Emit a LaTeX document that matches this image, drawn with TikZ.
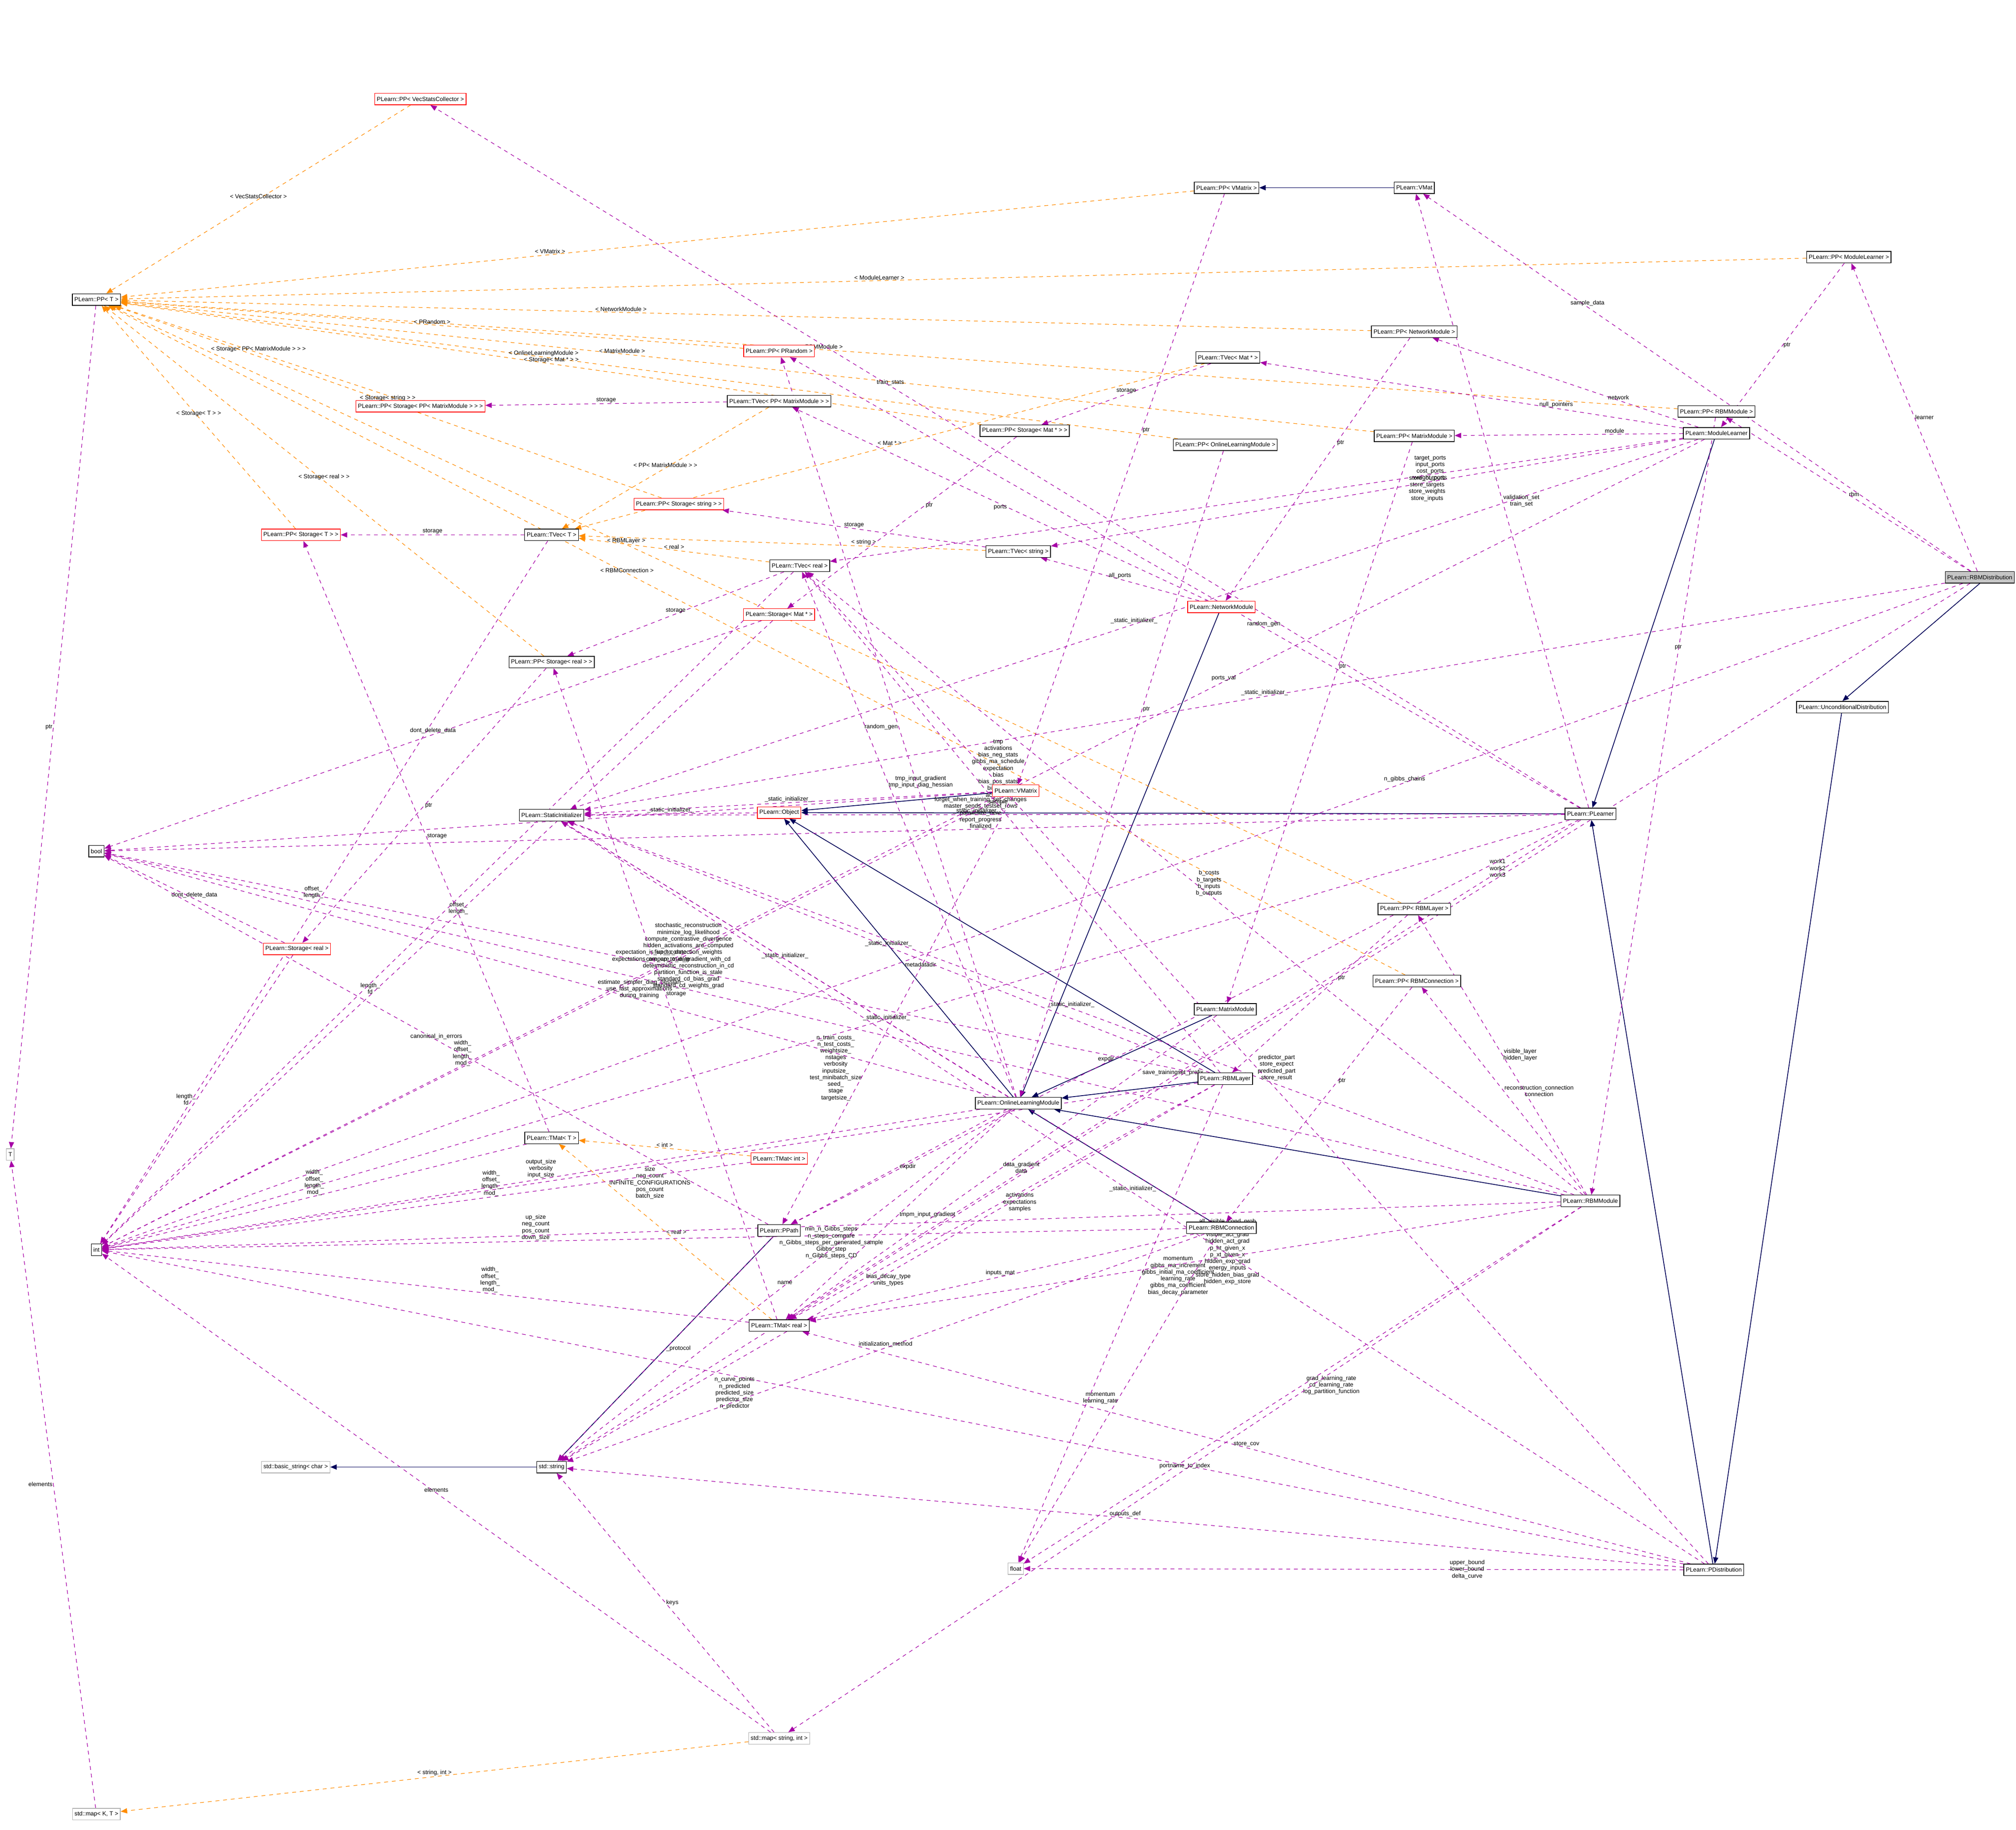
\documentclass[tikz,border=0pt]{standalone}
\usepackage{fontspec}
\setmainfont{Liberation Sans}
\usetikzlibrary{arrows.meta,backgrounds}
\begin{document}
\begin{tikzpicture}[x=1pt,y=-1pt,
 every node/.style={font=\fontsize{4.6}{5.2}\selectfont},
 cls/.style={draw=black,fill=white,inner sep=1.6pt,minimum height=9pt,line width=0.5pt},
 redc/.style={cls,draw=red},
 grayc/.style={cls,draw=gray!60},
 rootc/.style={cls,fill=gray!45},
 inh/.style={draw=blue!35!black,line width=0.6pt,-{Triangle[length=5pt,width=4pt]}},
 use/.style={draw=violet!70!magenta,dashed,line width=0.45pt,-{Triangle[length=5pt,width=4pt]}},
 tpl/.style={draw=orange!90!yellow,dashed,line width=0.45pt,-{Triangle[length=5pt,width=4pt]}},
 lb/.style={align=center,inner sep=0.5pt}]
\path[use as bounding box] (0,0) rectangle (1568,1423);
% nodes
\node[rootc,anchor=east] (rbmd) at (1567,449) {PLearn::RBMDistribution};
\node[cls] (ppml) at (1438,200) {PLearn::PP< ModuleLearner >};
\node[cls] (pprbmm) at (1335,320) {PLearn::PP< RBMModule >};
\node[cls] (ml) at (1335,337) {PLearn::ModuleLearner};
\node[cls] (ppnm) at (1100,258) {PLearn::PP< NetworkModule >};
\node[cls] (ppmm) at (1100,339) {PLearn::PP< MatrixModule >};
\node[cls] (ppolm) at (953,346) {PLearn::PP< OnlineLearningModule >};
\node[cls] (tvmat) at (955,278) {PLearn::TVec< Mat * >};
\node[cls] (vmat) at (1100,146) {PLearn::VMat};
\node[cls] (ppvm) at (954,146) {PLearn::PP< VMatrix >};
\node[cls] (ud) at (1433,550) {PLearn::UnconditionalDistribution};
\node[cls] (pl) at (1237,633) {PLearn::PLearner};
\node[cls] (pprl) at (1100,707) {PLearn::PP< RBMLayer >};
\node[cls] (pprc) at (1102,763) {PLearn::PP< RBMConnection >};
\node[cls] (rbmm) at (1237,934) {PLearn::RBMModule};
\node[cls] (pd) at (1333,1221) {PLearn::PDistribution};
\node[redc] (nm) at (950,472) {PLearn::NetworkModule};
\node[redc] (vm) at (790,615) {PLearn::VMatrix};
\node[redc] (obj) at (606,632) {PLearn::Object};
\node[cls] (si) at (429,634) {PLearn::StaticInitializer};
\node[cls] (mm) at (953,785) {PLearn::MatrixModule};
\node[cls] (rl) at (953,839) {PLearn::RBMLayer};
\node[cls] (olm) at (792,858) {PLearn::OnlineLearningModule};
\node[cls] (rc) at (950,955) {PLearn::RBMConnection};
\node[cls] (tvs) at (792,429) {PLearn::TVec< string >};
\node[cls] (tvr) at (622,440) {PLearn::TVec< real >};
\node[cls] (tvt) at (429,416) {PLearn::TVec< T >};
\node[redc] (stm) at (606,478) {PLearn::Storage< Mat * >};
\node[cls] (ppsr) at (429,515) {PLearn::PP< Storage< real > >};
\node[cls] (ppsm) at (797,335) {PLearn::PP< Storage< Mat * > >};
\node[redc] (ppss) at (528,392) {PLearn::PP< Storage< string > >};
\node[redc] (ppst) at (234,416) {PLearn::PP< Storage< T > >};
\node[redc] (ppspm) at (327,316) {PLearn::PP< Storage< PP< MatrixModule > > >};
\node[cls] (tvpm) at (606,312) {PLearn::TVec< PP< MatrixModule > >};
\node[redc] (pprand) at (606,273) {PLearn::PP< PRandom >};
\node[redc] (ppvsc) at (327,77) {PLearn::PP< VecStatsCollector >};
\node[cls] (ppt) at (75,233) {PLearn::PP< T >};
\node[cls] (bool) at (75,662) {bool};
\node[redc] (sr) at (231,738) {PLearn::Storage< real >};
\node[cls] (tmt) at (429,885) {PLearn::TMat< T >};
\node[redc] (tmi) at (606,901) {PLearn::TMat< int >};
\node[cls] (pp) at (606,957) {PLearn::PPath};
\node[cls] (tmr) at (606,1031) {PLearn::TMat< real >};
\node[cls] (int) at (75,972) {int};
\node[grayc] (T) at (8,898) {T};
\node[cls] (str) at (429,1141) {std::string};
\node[grayc] (bstr) at (230,1141) {std::basic\_string< char >};
\node[grayc] (float) at (790,1220) {float};
\node[grayc] (msi) at (606,1352) {std::map< string, int >};
\node[grayc] (mkt) at (75,1411) {std::map< K, T >};
\begin{scope}[on background layer]
\fill[white] (0,0) rectangle (1568,1423);
% inheritance
\draw[inh] (vmat) -- (ppvm);
\draw[inh] (rbmd.south) -- (ud.north);
\draw[inh] (ud) -- (pd);
\draw[inh] (pd) -- (pl);
\draw[inh] (pl) -- (obj);
\draw[inh] (ml) -- (pl);
\draw[inh] (rbmm) -- (olm);
\draw[inh] (nm) -- (olm);
\draw[inh] (mm) -- (olm);
\draw[inh] (rl) -- (olm);
\draw[inh] (rc) -- (olm);
\draw[inh] (olm) -- (obj);
\draw[inh] (vm) -- (obj);
\draw[inh] (rl) -- (obj);
\draw[inh] (pp) -- (str);
\draw[inh] (str) -- (bstr);
% templates
\draw[tpl] (ppml) -- node[lb,pos=0.55,above]{< ModuleLearner >} (ppt);
\draw[tpl] (pprbmm) -- node[lb,pos=0.55,above]{< RBMModule >} (ppt);
\draw[tpl] (ppvsc) -- node[lb,above]{< VecStatsCollector >} (ppt);
\draw[tpl] (ppvm) -- node[lb,pos=0.6,above]{< VMatrix >} (ppt);
\draw[tpl] (ppnm) -- node[lb,pos=0.6,above]{< NetworkModule >} (ppt);
\draw[tpl] (ppmm) -- node[lb,pos=0.6,above]{< MatrixModule >} (ppt);
\draw[tpl] (pprl) -- node[lb,pos=0.6,above]{< RBMLayer >} (ppt);
\draw[tpl] (pprc) -- node[lb,pos=0.6,above]{< RBMConnection >} (ppt);
\draw[tpl] (ppolm) -- node[lb,pos=0.6,above]{< OnlineLearningModule >} (ppt);
\draw[tpl] (pprand) -- node[lb,pos=0.5,above]{< PRandom >} (ppt);
\draw[tpl] (ppsm) -- node[lb,pos=0.5,above]{< Storage< Mat * > >} (ppt);
\draw[tpl] (ppspm) -- node[lb,pos=0.5,above]{< Storage< PP< MatrixModule > > >} (ppt);
\draw[tpl] (ppst) -- node[lb,pos=0.5,above]{< Storage< T > >} (ppt);
\draw[tpl] (ppss) -- node[lb,pos=0.5,above]{< Storage< string > >} (ppt);
\draw[tpl] (ppsr) -- node[lb,pos=0.5,above]{< Storage< real > >} (ppt);
\draw[tpl] (tvmat) -- node[lb,pos=0.5,above]{< Mat * >} (tvt);
\draw[tpl] (tvpm) -- node[lb,pos=0.5,above]{< PP< MatrixModule > >} (tvt);
\draw[tpl] (tvs) -- node[lb,pos=0.3,above]{< string >} (tvt);
\draw[tpl] (tvr) -- node[lb,pos=0.5,above]{< real >} (tvt);
\draw[tpl] (tmi) -- node[lb,pos=0.5,above]{< int >} (tmt);
\draw[tpl] (tmr) -- node[lb,pos=0.5,right]{< real >} (tmt);
\draw[tpl] (msi) -- node[lb,pos=0.5,above]{< string, int >} (mkt);
% usage
\draw[use] (rbmd) -- node[lb,right]{learner} (ppml);
\draw[use] (rbmd) -- node[lb,pos=0.7,above]{sample\_data} (vmat);
\draw[use] (rbmd) -- node[lb,right]{rbm} (pprbmm);
\draw[use] (rbmd) -- node[lb,pos=0.4,above]{work1\\work2\\work3} (tmr);
\draw[use] (rbmd) -- node[lb,pos=0.3,above]{n\_gibbs\_chains} (int);
\draw[use] (rbmd) -- node[lb,pos=0.5,above]{\_static\_initializer\_} (si);
\draw[use] (ppml) -- node[lb,right]{ptr} (ml);
\draw[use] (pprbmm) -- node[lb,pos=0.3,above]{ptr} (rbmm);
\draw[use] (ppvm) -- node[lb,pos=0.4,right]{ptr} (vm);
\draw[use] (ppnm) -- node[lb,pos=0.4,right]{ptr} (nm);
\draw[use] (ppmm) -- node[lb,pos=0.4,right]{ptr} (mm);
\draw[use] (pprl) -- node[lb,pos=0.4,right]{ptr} (rl);
\draw[use] (pprc) -- node[lb,pos=0.4,right]{ptr} (rc);
\draw[use] (ppolm) -- node[lb,pos=0.4,right]{ptr} (olm);
\draw[use] (ppt) -- node[lb,pos=0.5,left]{ptr} (T);
\draw[use] (ppsr) -- node[lb,pos=0.5,right]{ptr} (sr);
\draw[use] (ppsm) -- node[lb,pos=0.4,right]{ptr} (stm);
\draw[use] (ml) -- node[lb,pos=0.3,above]{network} (ppnm);
\draw[use] (ml) -- node[lb,pos=0.3,above]{null\_pointers} (tvmat);
\draw[use] (ml) -- node[lb,pos=0.3,above]{module} (ppmm);
\draw[use] (ml) -- node[lb,pos=0.4,above]{target\_ports\\input\_ports\\cost\_ports\\weight\_ports} (tvs);
\draw[use] (ml) -- node[lb,pos=0.3,below]{store\_outputs\\store\_targets\\store\_weights\\store\_inputs} (tvr);
\draw[use] (ml) -- node[lb,pos=0.5,above]{\_static\_initializer\_} (si);
\draw[use] (ml) -- node[lb,pos=0.3,above]{ports\_val} (int);
\draw[use] (pl) -- node[lb,pos=0.5,right]{validation\_set\\train\_set} (vmat);
\draw[use] (pl) -- node[lb,pos=0.6,above]{train\_stats} (ppvsc);
\draw[use] (pl) -- node[lb,pos=0.4,above]{forget\_when\_training\_set\_changes\\master\_sends\_testset\_rows\\parallelize\_here\\report\_progress\\finalized} (bool);
\draw[use] (pl) -- node[lb,pos=0.4,above]{random\_gen} (pprand);
\draw[use] (pl) -- node[lb,pos=0.5,below]{n\_train\_costs\_\\n\_test\_costs\_\\weightsize\_\\nstages\\verbosity\\inputsize\_\\test\_minibatch\_size\\seed\_\\stage\\targetsize\_} (int);
\draw[use] (pl) -- node[lb,pos=0.6,above]{expdir} (pp);
\draw[use] (pl) -- node[lb,pos=0.4,above]{save\_trainingset\_prefix} (str);
\draw[use] (pl) -- node[lb,pos=0.6,above]{\_static\_initializer\_} (si);
\draw[use] (vm) -- node[lb,pos=0.5,above]{writable} (bool);
\draw[use] (vm) -- node[lb,pos=0.4,above]{metadatadir} (pp);
\draw[use] (vm) -- node[lb,pos=0.6,above]{width\_\\offset\_\\length\_\\mod\_} (int);
\draw[use] (vm) -- node[lb,pos=0.5,above]{\_static\_initializer\_} (si);
\draw[use] (obj) -- node[lb,pos=0.5,above]{\_static\_initializer\_} (si);
\draw[use] (nm) -- node[lb,pos=0.5,above]{all\_ports} (tvs);
\draw[use] (nm) -- node[lb,pos=0.5,below]{ports} (tvpm);
\draw[use] (olm) -- node[lb,pos=0.5,left]{random\_gen} (pprand);
\draw[use] (olm) -- node[lb,pos=0.4,above]{estimate\_simpler\_diag\_hessian\\use\_fast\_approximations\\during\_training} (bool);
\draw[use] (olm) -- node[lb,pos=0.5,above]{output\_size\\verbosity\\input\_size} (int);
\draw[use] (olm) -- node[lb,pos=0.5,above]{name} (str);
\draw[use] (olm) -- node[lb,pos=0.5,right]{expdir} (pp);
\draw[use] (olm) -- node[lb,pos=0.5,above]{\_static\_initializer\_} (si);
\draw[use] (olm) -- node[lb,pos=0.6,right]{tmp\_input\_gradient\\tmp\_input\_diag\_hessian} (tvr);
\draw[use] (olm) -- node[lb,pos=0.5,right]{tmpm\_input\_gradient} (tmr);
\draw[use] (rl) -- node[lb,pos=0.6,right]{tmp\\activations\\bias\_neg\_stats\\gibbs\_ma\_schedule\\expectation\\bias\\bias\_pos\_stats\\bias\_inc\\activation\\sample} (tvr);
\draw[use] (rl) -- node[lb,pos=0.4,right]{momentum\\gibbs\_ma\_increment\\gibbs\_initial\_ma\_coefficient\\learning\_rate\\gibbs\_ma\_coefficient\\bias\_decay\_parameter} (float);
\draw[use] (rl) -- node[lb,pos=0.5,right]{activations\\expectations\\samples} (tmr);
\draw[use] (rl) -- node[lb,pos=0.5,above]{expectation\_is\_up\_to\_date\\expectations\_are\_up\_to\_date} (bool);
\draw[use] (rl) -- node[lb,pos=0.5,below]{size\\neg\_count\\INFINITE\_CONFIGURATIONS\\pos\_count\\batch\_size} (int);
\draw[use] (rl) -- node[lb,pos=0.5,below]{bias\_decay\_type\\units\_types} (str);
\draw[use] (rl) -- node[lb,pos=0.5,above]{\_static\_initializer\_} (si);
\draw[use] (rc) -- node[lb,pos=0.5,left]{momentum\\learning\_rate} (float);
\draw[use] (rc) -- node[lb,pos=0.6,above]{up\_size\\neg\_count\\pos\_count\\down\_size} (int);
\draw[use] (rc) -- node[lb,pos=0.5,above]{initialization\_method} (str);
\draw[use] (rc) -- node[lb,pos=0.5,above]{inputs\_mat} (tmr);
\draw[use] (rc) -- node[lb,pos=0.5,above]{\_static\_initializer\_} (si);
\draw[use] (rbmm) -- node[lb,pos=0.5,right]{visible\_layer\\hidden\_layer} (pprl);
\draw[use] (rbmm) -- node[lb,pos=0.5,right]{reconstruction\_connection\\connection} (pprc);
\draw[use] (rbmm) -- node[lb,pos=0.6,above]{stochastic\_reconstruction\\minimize\_log\_likelihood\\compute\_contrastive\_divergence\\hidden\_activations\_are\_computed\\fixed\_connection\_weights\\compare\_true\_gradient\_with\_cd\\deterministic\_reconstruction\_in\_cd\\partition\_function\_is\_stale\\standard\_cd\_bias\_grad\\standard\_cd\_weights\_grad} (bool);
\draw[use] (rbmm) -- node[lb,pos=0.4,left]{all\_visible\_cond\_prob\\store\_weights\_grad\\visible\_act\_grad\\hidden\_act\_grad\\p\_ht\_given\_x\\p\_xt\_given\_x\\hidden\_exp\_grad\\energy\_inputs\\store\_hidden\_bias\_grad\\hidden\_exp\_store} (tmr);
\draw[use] (rbmm) -- node[lb,pos=0.5,right]{b\_costs\\b\_targets\\b\_inputs\\b\_outputs} (tvr);
\draw[use] (rbmm) -- node[lb,pos=0.5,right]{grad\_learning\_rate\\cd\_learning\_rate\\log\_partition\_function} (float);
\draw[use] (rbmm) -- node[lb,pos=0.5,below]{min\_n\_Gibbs\_steps\\n\_steps\_compare\\n\_Gibbs\_steps\_per\_generated\_sample\\Gibbs\_step\\n\_Gibbs\_steps\_CD} (int);
\draw[use] (rbmm) -- node[lb,pos=0.5,above]{portname\_to\_index} (msi);
\draw[use] (rbmm) -- node[lb,pos=0.5,above]{\_static\_initializer\_} (si);
\draw[use] (mm) -- node[lb,pos=0.5,right]{data\_gradient\\data} (tmr);
\draw[use] (tvt) -- node[lb,pos=0.5,above]{storage} (ppst);
\draw[use] (tvt) -- node[lb,pos=0.5,left]{offset\_\\length\_} (int);
\draw[use] (tvr) -- node[lb,pos=0.5,above]{storage} (ppsr);
\draw[use] (tvr) -- node[lb,pos=0.5,right]{offset\_\\length\_} (int);
\draw[use] (tvs) -- node[lb,pos=0.5,above]{storage} (ppss);
\draw[use] (tvmat) -- node[lb,pos=0.5,above]{storage} (ppsm);
\draw[use] (tvpm) -- node[lb,pos=0.5,above]{storage} (ppspm);
\draw[use] (sr) -- node[lb,pos=0.5,above]{dont\_delete\_data} (bool);
\draw[use] (sr) -- node[lb,pos=0.5,left]{length\_\\fd} (int);
\draw[use] (stm) -- node[lb,pos=0.5,above]{dont\_delete\_data} (bool);
\draw[use] (stm) -- node[lb,pos=0.6,above]{length\_\\fd} (int);
\draw[use] (tmt) -- node[lb,pos=0.5,right]{storage} (ppst);
\draw[use] (tmt) -- node[lb,pos=0.5,above]{width\_\\offset\_\\length\_\\mod\_} (int);
\draw[use] (tmi) -- node[lb,pos=0.4,above]{width\_\\offset\_\\length\_\\mod\_} (int);
\draw[use] (tmr) -- node[lb,pos=0.5,right]{storage} (ppsr);
\draw[use] (tmr) -- node[lb,pos=0.4,above]{width\_\\offset\_\\length\_\\mod\_} (int);
\draw[use] (pp) -- node[lb,pos=0.5,above]{canonical\_in\_errors} (bool);
\draw[use] (pp) -- node[lb,pos=0.5,right]{\_protocol} (str);
\draw[use] (msi) -- node[lb,pos=0.5,above]{elements} (int);
\draw[use] (msi) -- node[lb,pos=0.5,right]{keys} (str);
\draw[use] (mkt) -- node[lb,pos=0.5,left]{elements} (T);
\draw[use] (pd) -- node[lb,pos=0.6,below]{n\_curve\_points\\n\_predicted\\predicted\_size\\predictor\_size\\n\_predictor} (int);
\draw[use] (pd) -- node[lb,pos=0.3,left]{upper\_bound\\lower\_bound\\delta\_curve} (float);
\draw[use] (pd) -- node[lb,pos=0.5,above]{store\_cov} (tmr);
\draw[use] (pd) -- node[lb,pos=0.5,above]{outputs\_def} (str);
\draw[use] (pd) -- node[lb,pos=0.5,right]{predictor\_part\\store\_expect\\predicted\_part\\store\_result} (tvr);
\draw[use] (pd) -- node[lb,pos=0.5,above]{\_static\_initializer\_} (si);
\end{scope}
\end{tikzpicture}
\end{document}
